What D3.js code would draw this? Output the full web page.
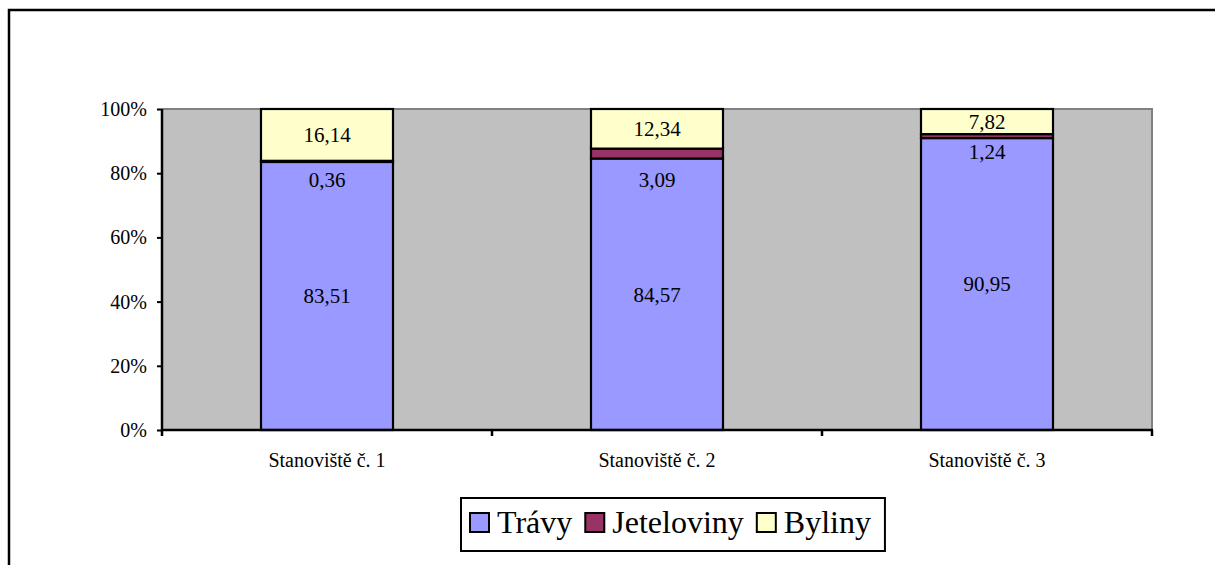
<!DOCTYPE html>
<html>
<head>
<meta charset="utf-8">
<script src="https://cdn.jsdelivr.net/npm/d3@7"></script>
</head>
<body style="margin:0">
<svg id="chart" width="1215" height="565" style="display:block"></svg>
<script>
// Sites and composition of the sward (% share) per group
const categories = ["Stanoviště č. 1", "Stanoviště č. 2", "Stanoviště č. 3"];
const seriesNames = ["Trávy", "Jeteloviny", "Byliny"];
const travy = [83.51, 84.57, 90.95];
const jeteloviny = [0.36, 3.09, 1.24];
const byliny = [16.14, 12.34, 7.82];
const yTicks = [0, 0.2, 0.4, 0.6, 0.8, 1.0];
const colors = ["#9999FF", "#993366", "#FFFFCC"];

const FONT = "Liberation Serif";

const rows = categories.map((c, i) => ({
  cat: c, "Trávy": travy[i], "Jeteloviny": jeteloviny[i], "Byliny": byliny[i]
}));

const svg = d3.select("#chart");
const W = 1215, H = 565;
const plot = { left: 162, right: 1152, top: 109, bottom: 430 };

function label(sel) {
  return sel.attr("font-family", FONT).attr("fill", "#000");
}

// outer chart frame (right and bottom edges run past the page)
svg.append("rect")
  .attr("x", 9).attr("y", 10)
  .attr("width", W + 20).attr("height", H + 20)
  .attr("fill", "none").attr("stroke", "#000").attr("stroke-width", 2.5);

const x = d3.scaleBand().domain(categories)
  .range([plot.left, plot.right]).paddingInner(0.6).paddingOuter(0.3);
const y = d3.scaleLinear().domain([0, 1]).range([plot.bottom, plot.top]);

const stack = d3.stack().keys(seriesNames).offset(d3.stackOffsetExpand);
const layers = stack(rows);

// plot area
svg.append("rect")
  .attr("x", plot.left).attr("y", plot.top)
  .attr("width", plot.right - plot.left).attr("height", plot.bottom - plot.top)
  .attr("fill", "#C0C0C0");
svg.append("path")
  .attr("d", `M${plot.left},${plot.top}H${plot.right}V${plot.bottom}`)
  .attr("fill", "none").attr("stroke", "#808080").attr("stroke-width", 2);

// stacked bars
const g = svg.append("g");
layers.forEach((layer, li) => {
  g.selectAll(null).data(layer).enter().append("rect")
    .attr("x", d => x(d.data.cat))
    .attr("width", x.bandwidth())
    .attr("y", d => y(d[1]))
    .attr("height", d => y(d[0]) - y(d[1]))
    .attr("fill", colors[li])
    .attr("stroke", "#000").attr("stroke-width", 2.2);
});

// data labels
const fmt = v => d3.format(".2f")(v).replace(".", ",");
const jetLabelNudge = [18, 21, 14];
layers.forEach((layer, li) => {
  layer.forEach((d, i) => {
    const v = d.data[seriesNames[li]];
    let cy = (y(d[0]) + y(d[1])) / 2;
    if (li === 1) cy = y(d[0]) + jetLabelNudge[i];
    svg.append("text")
      .attr("x", x(d.data.cat) + x.bandwidth() / 2)
      .attr("y", cy)
      .attr("dy", "0.35em")
      .attr("text-anchor", "middle")
      .attr("font-size", 21)
      .call(label)
      .text(fmt(v));
  });
});

// y axis
const yAxis = d3.axisLeft(y).tickValues(yTicks).tickSize(5).tickPadding(10)
  .tickFormat(d3.format(".0%"));
const ya = svg.append("g").attr("transform", `translate(${plot.left},0)`).call(yAxis)
  .attr("font-family", FONT);
ya.select(".domain").attr("stroke", "#000").attr("stroke-width", 2.5)
  .attr("d", `M0,${plot.top}V${plot.bottom}`);
ya.selectAll(".tick line").attr("stroke", "#000").attr("stroke-width", 2);
ya.selectAll(".tick text").attr("font-size", 20).call(label);

// x axis with ticks on category boundaries
const xa = svg.append("g").attr("transform", `translate(0,${plot.bottom})`);
xa.append("line").attr("x1", plot.left - 1).attr("x2", plot.right + 1)
  .attr("stroke", "#000").attr("stroke-width", 2.5);
const bounds = [plot.left].concat(categories.map((c, i) => plot.left + (i + 1) * (plot.right - plot.left) / categories.length));
xa.selectAll(null).data(bounds).enter().append("line")
  .attr("x1", d => d).attr("x2", d => d).attr("y1", 0).attr("y2", 6)
  .attr("stroke", "#000").attr("stroke-width", 2.5);
xa.selectAll(null).data(categories).enter().append("text")
  .attr("x", d => x(d) + x.bandwidth() / 2)
  .attr("y", 37)
  .attr("text-anchor", "middle")
  .attr("font-size", 20)
  .call(label)
  .text(d => d);

// legend
const lg = svg.append("g");
const legendBox = lg.append("rect")
  .attr("fill", "#fff").attr("stroke", "#000").attr("stroke-width", 2);
let lx = 470;
const ly = 523;
seriesNames.forEach((name, i) => {
  lg.append("rect")
    .attr("x", lx).attr("y", ly - 10).attr("width", 19).attr("height", 19)
    .attr("fill", colors[i]).attr("stroke", "#000").attr("stroke-width", 2);
  const t = lg.append("text")
    .attr("x", lx + 27).attr("y", ly + 10)
    .attr("font-size", 32)
    .call(label)
    .text(name);
  lx += 27 + t.node().getComputedTextLength() + 13;
});
legendBox.attr("x", 461).attr("y", 498).attr("width", lx - 13 + 14 - 461).attr("height", 53);
</script>
</body>
</html>
